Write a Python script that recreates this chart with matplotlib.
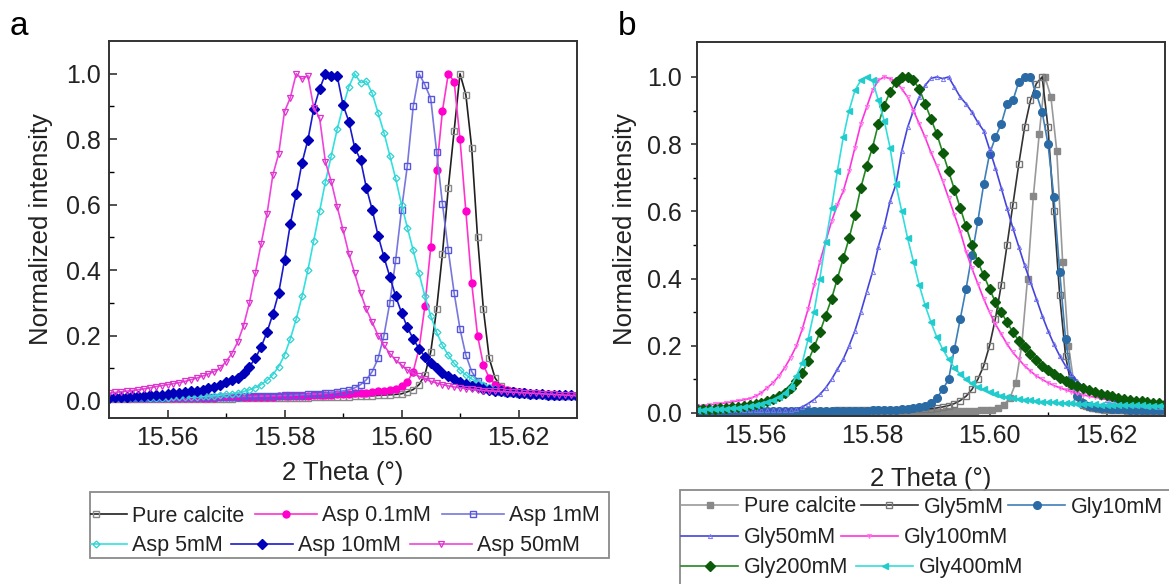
import numpy as np
import matplotlib
matplotlib.use('Agg')
import matplotlib.pyplot as plt
from matplotlib.patches import Rectangle
from matplotlib.transforms import Bbox, TransformedBbox

plt.rcParams['font.family'] = ['Liberation Sans', 'DejaVu Sans']

STEP = 0.001
XLIM = (15.55, 15.63)
XTICKS = [15.56, 15.58, 15.60, 15.62]
YTICKS = [0.0, 0.2, 0.4, 0.6, 0.8, 1.0]

# ---------------- panel a data (x = start + STEP*i) ----------------
A_LABELS = ['Pure calcite', 'Asp 0.1mM', 'Asp 1mM', 'Asp 5mM', 'Asp 10mM', 'Asp 50mM']
A_START = [15.550, 15.550, 15.550, 15.550, 15.550, 15.550]

a_pure = [.005,.005,.005,.005,.005,.005,.005,.005,.006,.006,
          .006,.006,.006,.006,.006,.007,.007,.007,.007,.007,
          .007,.007,.008,.008,.008,.008,.008,.008,.009,.009,
          .009,.009,.010,.010,.010,.011,.011,.011,.012,.012,
          .013,.013,.014,.015,.015,.016,.017,.018,.019,.020,
          .022,.028,.035,.050,.080,.15,.28,.45,.651,.826,
          1.0,.936,.774,.50,.28,.13,.07,.045,.035,.03,
          .027,.024,.022,.02,.019,.018,.017,.016,.015,.015,.014]
a_asp01 = [.008,.008,.008,.008,.008,.008,.008,.008,.009,.009,
           .009,.009,.009,.009,.01,.01,.01,.01,.01,.011,
           .011,.011,.011,.012,.012,.012,.013,.013,.013,.014,
           .014,.015,.015,.016,.016,.017,.017,.018,.019,.020,
           .021,.022,.023,.024,.025,.027,.029,.031,.034,.038,
           .045,.058,.09,.16,.29,.47,.706,.887,1.0,.976,
           .80,.58,.36,.20,.11,.07,.05,.04,.035,.031,
           .028,.026,.024,.022,.021,.020,.019,.018,.018,.017,.016]
a_asp1 = [.01,.01,.01,.01,.01,.01,.01,.01,.01,.01,
          .011,.011,.011,.011,.011,.012,.012,.012,.012,.012,
          .013,.013,.013,.014,.014,.014,.015,.015,.016,.016,
          .017,.017,.018,.019,.02,.021,.022,.023,.025,.027,
          .03,.034,.04,.05,.065,.09,.13,.2,.3,.43,
          .584,.719,.90,1.0,.966,.924,.762,.602,.46,.33,
          .22,.14,.09,.062,.047,.038,.032,.028,.025,.023,
          .021,.02,.019,.018,.017,.016,.016,.015,.015,.014,.014]
a_asp5 = [.008,.008,.008,.008,.009,.009,.009,.009,.01,.01,
          .01,.011,.011,.012,.012,.013,.014,.015,.016,.018,
          .02,.022,.025,.029,.034,.041,.05,.063,.08,.105,
          .14,.19,.25,.32,.40,.49,.58,.67,.75,.83,
          .90,.96,1.0,.973,.977,.94,.88,.82,.75,.68,
          .60,.53,.46,.39,.32,.26,.21,.17,.14,.115,
          .095,.08,.067,.057,.049,.043,.038,.034,.031,.028,
          .026,.024,.023,.022,.021,.02,.019,.018,.018,.017,.017]
a_asp10 = [.01,.011,.012,.013,.014,.015,.016,.017,.018,.019,
           .021,.023,.025,.027,.029,.032,.035,.039,.044,.05,
           .058,.064,.07,.085,.105,.13,.165,.21,.265,.33,
           .43,.541,.633,.728,.798,.893,.953,1.0,.994,.994,
           .905,.854,.774,.737,.651,.584,.505,.44,.38,.32,
           .27,.225,.19,.16,.135,.115,.1,.087,.076,.067,
           .059,.052,.047,.042,.038,.035,.032,.03,.028,.026,
           .024,.023,.022,.021,.02,.019,.018,.018,.017,.017,.016]
a_asp50 = [.024,.026,.028,.03,.032,.034,.037,.04,.044,.047,
           .05,.053,.056,.06,.065,.07,.076,.083,.09,.1,
           .12,.145,.18,.23,.30,.39,.48,.57,.69,.755,
           .884,.927,1.0,.984,.994,.896,.865,.73,.67,.594,
           .523,.45,.39,.33,.28,.24,.2,.17,.145,.125,
           .11,.095,.085,.075,.067,.06,.055,.05,.046,.043,
           .04,.038,.036,.034,.032,.031,.03,.029,.028,.027,
           .026,.025,.024,.023,.022,.021,.02,.019,.018,.017,.016]
A_SERIES = [a_pure, a_asp01, a_asp1, a_asp5, a_asp10, a_asp50]

# ---------------- panel b data ----------------
B_LABELS = ['Pure calcite', 'Gly5mM', 'Gly10mM', 'Gly50mM', 'Gly100mM', 'Gly200mM', 'Gly400mM']
B_START = [15.5505, 15.550, 15.550, 15.550, 15.550, 15.550, 15.550]

b_pure = [.003,.003,.003,.003,.003,.003,.003,.003,.003,.003,
          .003,.003,.003,.003,.003,.003,.003,.003,.003,.003,
          .003,.003,.003,.003,.003,.003,.003,.003,.003,.003,
          .004,.004,.004,.004,.004,.004,.004,.004,.004,.004,
          .004,.004,.005,.005,.005,.006,.006,.007,.008,.009,
          .01,.015,.025,.045,.09,.2,.40,.646,.83,1.0,
          .94,.78,.45,.2,.08,.035,.02,.015,.012,.01,
          .009,.008,.008,.007,.007,.007,.006,.006,.006,.006,.006]
b_gly5 = [.005,.005,.005,.005,.005,.005,.005,.005,.005,.005,
          .006,.006,.006,.006,.006,.006,.006,.006,.007,.007,
          .007,.007,.007,.007,.008,.008,.008,.008,.008,.009,
          .009,.009,.009,.01,.01,.01,.011,.011,.012,.012,
          .013,.015,.018,.022,.028,.037,.05,.07,.1,.14,
          .2,.28,.38,.5,.62,.74,.85,.93,.98,1.0,
          .85,.6,.35,.17,.08,.04,.025,.018,.014,.012,
          .011,.01,.009,.009,.008,.008,.008,.007,.007,.007,.007]
b_gly10 = [.005,.005,.005,.005,.005,.005,.005,.005,.005,.005,
           .005,.005,.005,.005,.005,.005,.005,.005,.005,.005,
           .006,.006,.006,.006,.006,.006,.006,.006,.007,.007,
           .008,.008,.009,.009,.01,.011,.012,.014,.017,.022,
           .03,.045,.07,.1,.19,.28,.37,.47,.57,.68,
           .77,.82,.86,.92,.93,.985,1.0,1.0,.95,.896,
           .80,.644,.42,.22,.1,.05,.03,.022,.018,.016,
           .014,.013,.012,.011,.01,.01,.009,.009,.008,.008,.008]
b_gly50 = [.008,.008,.008,.008,.008,.008,.008,.008,.008,.008,
           .009,.009,.009,.009,.009,.01,.01,.012,.018,.028,
           .04,.055,.075,.1,.13,.16,.2,.245,.3,.36,
           .42,.495,.555,.63,.68,.78,.85,.9,.94,.975,
           .996,1.0,.995,1.0,.97,.94,.92,.895,.865,.84,
           .785,.73,.67,.61,.55,.495,.44,.39,.34,.29,
           .245,.205,.17,.14,.115,.095,.078,.065,.055,.047,
           .04,.036,.032,.029,.027,.025,.023,.021,.02,.019,.018]
b_gly100 = [.02,.022,.024,.026,.028,.03,.033,.036,.039,.043,
            .05,.06,.075,.09,.11,.135,.165,.2,.25,.31,
            .38,.45,.51,.57,.62,.66,.72,.79,.86,.91,
            .96,.99,1.0,.995,.986,.965,.94,.9,.86,.82,
            .775,.735,.69,.64,.59,.54,.48,.43,.385,.34,
            .30,.265,.235,.205,.18,.16,.14,.125,.11,.1,
            .09,.082,.075,.069,.063,.058,.054,.05,.047,.044,
            .041,.039,.037,.035,.033,.031,.03,.029,.028,.027,.026]
b_gly200 = [.012,.012,.013,.013,.015,.016,.018,.019,.022,.024,
            .027,.031,.036,.042,.05,.06,.075,.095,.12,.155,
            .195,.24,.29,.34,.40,.46,.52,.59,.67,.735,
            .79,.86,.915,.955,.985,1.0,1.0,.99,.965,.92,
            .875,.83,.775,.72,.665,.61,.555,.5,.45,.41,
            .37,.33,.30,.27,.24,.215,.195,.175,.157,.14,
            .127,.115,.104,.095,.087,.08,.073,.067,.062,.057,
            .053,.05,.046,.043,.04,.037,.035,.033,.031,.029,.028]
b_gly400 = [.01,.01,.011,.011,.012,.013,.014,.016,.018,.02,
            .023,.027,.032,.038,.047,.06,.078,.11,.15,.22,
            .3,.4,.51,.61,.72,.82,.9,.96,.99,1.0,
            .99,.93,.87,.79,.68,.6,.52,.45,.38,.32,
            .27,.225,.19,.16,.135,.115,.1,.088,.078,.07,
            .063,.057,.052,.048,.045,.042,.04,.038,.036,.034,
            .033,.032,.031,.03,.029,.028,.027,.026,.026,.025,
            .025,.024,.024,.024,.023,.023,.023,.022,.022,.022,.022]
B_SERIES = [b_pure, b_gly5, b_gly10, b_gly50, b_gly100, b_gly200, b_gly400]

# ---------------- styles ----------------
A_STYLES = [
    dict(color='#202020', marker='s', ms=4.5, mfc='none', mec='#888888', mew=1.0),
    dict(color='#ff33cc', marker='o', ms=5, mfc='#ff00cc', mec='#ff00cc'),
    dict(color='#7777dd', marker='s', ms=4.5, mfc='none', mec='#5555dd', mew=1.0),
    dict(color='#33e0e0', marker='D', ms=3.5, mfc='none', mec='#33d0d0', mew=0.9),
    dict(color='#1a1acc', marker='D', ms=5, mfc='#0000bb', mec='#0000bb'),
    dict(color='#ee44dd', marker='v', ms=5, mfc='none', mec='#dd33cc', mew=0.9),
]
B_STYLES = [
    dict(color='#999999', marker='s', ms=4.5, mfc='#888888', mec='#888888'),
    dict(color='#333333', marker='s', ms=4.5, mfc='none', mec='#777777', mew=1.0),
    dict(color='#3d7fb8', marker='o', ms=5.5, mfc='#2a6aa5', mec='#2a6aa5'),
    dict(color='#4444dd', marker='^', ms=3, mfc='none', mec='#7777ee', mew=0.7),
    dict(color='#ff33dd', marker='v', ms=3, mfc='none', mec='#ff77ee', mew=0.7),
    dict(color='#228822', marker='D', ms=5, mfc='#0a5a0a', mec='#0a5a0a'),
    dict(color='#33dddd', marker='<', ms=5, mfc='#22cccc', mec='#22cccc'),
]

W, H = 1169, 584
fig = plt.figure(figsize=(W / 100, H / 100), dpi=100)

def px_rect(l, t, r, b):
    return [l / W, 1 - b / H, (r - l) / W, (b - t) / H]

ax_a = fig.add_axes(px_rect(109, 41, 577, 418))
ax_b = fig.add_axes(px_rect(697, 42, 1165, 416))

def draw(ax, labels, starts, series, styles):
    handles = []
    for lab, x0, ys, st in zip(labels, starts, series, styles):
        x = x0 + STEP * np.arange(len(ys))
        h, = ax.plot(x, ys, lw=1.2, label=lab, **st)
        handles.append(h)
    return handles

ha = draw(ax_a, A_LABELS, A_START, A_SERIES, A_STYLES)
hb = draw(ax_b, B_LABELS, B_START, B_SERIES, B_STYLES)

for ax, ylim in ((ax_a, (-0.052, 1.10)), (ax_b, (-0.009, 1.104))):
    ax.set_xlim(*XLIM)
    ax.set_ylim(*ylim)
    ax.set_xticks(XTICKS)
    ax.set_xticklabels(['%.2f' % v for v in XTICKS])
    ax.set_yticks(YTICKS)
    ax.set_yticklabels(['%.1f' % v for v in YTICKS])
    ax.set_xticks([15.57, 15.59, 15.61], minor=True)
    ax.set_yticks([0.1, 0.3, 0.5, 0.7, 0.9], minor=True)
    for s in ax.spines.values():
        s.set_color('#333333')
        s.set_linewidth(1.4)
    ax.tick_params(labelsize=18, colors='#333333', labelcolor='#222222')
    ax.set_xlabel('2 Theta (°)', fontsize=18.5, color='#222222')
    ax.set_ylabel('Normalized intensity', fontsize=18.5, color='#222222')

ax_a.tick_params(axis='both', which='major', direction='in', length=6, width=1.2, top=False, right=False)
ax_a.tick_params(axis='both', which='minor', direction='in', length=3.5, width=1.0)
ax_a.tick_params(axis='y', pad=6)
ax_a.tick_params(axis='x', pad=6)
ax_b.tick_params(axis='y', which='major', direction='out', length=4, width=1.2, pad=7)
ax_b.tick_params(axis='y', which='minor', direction='out', length=3, width=1.0)
ax_b.tick_params(axis='x', which='major', direction='in', length=5, width=1.2, pad=6)
ax_b.tick_params(axis='x', which='minor', direction='in', length=3, width=1.0)

ax_a.xaxis.set_label_coords(0.5, -0.114)
ax_b.xaxis.set_label_coords(0.5, -0.137)
ax_a.yaxis.set_label_coords(-0.12, 0.5)
ax_b.yaxis.set_label_coords(-0.128, 0.5)

fig.text(10 / W, 1 - 35 / H, 'a', fontsize=24, va='baseline', ha='left')
fig.text(618 / W, 1 - 35 / H, 'b', fontsize=24, va='baseline', ha='left')

# legends: flowing rows inside a drawn frame
def row_legend(handles, labels, x_px, y_px, hl, htp, cs, clip_left=None):
    leg = fig.legend(handles, labels, loc='center left',
                     bbox_to_anchor=(x_px / W, 1 - y_px / H), bbox_transform=fig.transFigure,
                     ncol=len(handles), frameon=False, borderpad=0, borderaxespad=0,
                     handlelength=hl, handletextpad=htp, columnspacing=cs,
                     fontsize=15.5, numpoints=1)
    for t in leg.get_texts():
        t.set_color('#222222')
    if clip_left is not None:
        bb = TransformedBbox(Bbox([[clip_left / W, 0], [1, 1]]), fig.transFigure)
        for ln in leg.get_lines():
            ln.set_clip_box(bb)
            ln.set_clip_on(True)
    return leg

fig.patches.append(Rectangle((90 / W, 1 - 558 / H), (609 - 90) / W, (558 - 492) / H,
                             transform=fig.transFigure, fill=False, ec='#8a8a8a', lw=1.3))
row_legend(ha[0:3], A_LABELS[0:3], 65, 516, 2.88, 0.23, 0.5, clip_left=90)
row_legend(ha[3:6], A_LABELS[3:6], 65, 546, 2.88, 0.23, 0.4, clip_left=90)

fig.patches.append(Rectangle((680 / W, 1 - 600 / H), (1180 - 680) / W, (600 - 490) / H,
                             transform=fig.transFigure, fill=False, ec='#8a8a8a', lw=1.3))
row_legend(hb[0:3], B_LABELS[0:3], 681, 507, 2.65, 0.28, 0.2)
row_legend(hb[3:5], B_LABELS[3:5], 681, 538, 2.65, 0.28, 0.2)
row_legend(hb[5:7], B_LABELS[5:7], 681, 568, 2.65, 0.28, 0.35)

fig.savefig('out.png', dpi=100)
